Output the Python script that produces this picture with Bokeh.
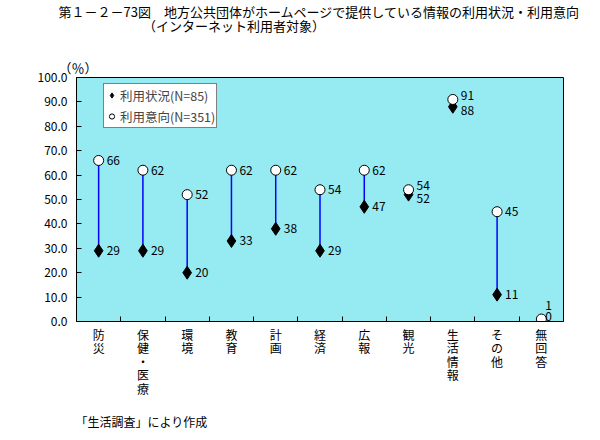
import numpy as np
from bokeh.plotting import figure
from bokeh.models import (Range1d, FixedTicker, NumeralTickFormatter, Title,
                          Legend, LegendItem, ColumnDataSource)
from bokeh.embed import file_html
from bokeh.resources import INLINE
from bokeh.core.properties import value

# ---- data ----
categories = ["防\n災", "保\n健\n・\n医\n療", "環\n境", "教\n育", "計\n画", "経\n済",
              "広\n報", "観\n光", "生\n活\n情\n報", "そ\nの\n他", "無\n回\n答"]
usage = [29, 29, 20, 33, 38, 29, 47, 52, 88, 11, 0]        # 利用状況(N=85)
intent = [66, 62, 52, 62, 62, 54, 62, 54, 91, 45, 1]       # 利用意向(N=351)
y_ticks = [0, 10, 20, 30, 40, 50, 60, 70, 80, 90, 100]

title1 = "第１－２－73図　地方公共団体がホームページで提供している情報の利用状況・利用意向"
title2 = "（インターネット利用者対象）"
unit_label = "（％）"
footer = "「生活調査」により作成"
usage_name = "利用状況(N=85)"
intent_name = "利用意向(N=351)"

FONT = "Noto Sans CJK JP"
n = len(categories)
xs = list(range(n))

# label offsets: separate labels when the two values are close
u_dy, i_dy, u_dx, i_dx = [], [], [], []
for u, v in zip(usage, intent):
    if v - u < 5:
        up, dn, dx = -4, 4, 8
        if u < 3:
            up, dn, dx = -14, -5, 4
        i_dy.append(up); u_dy.append(dn); i_dx.append(dx); u_dx.append(dx)
    else:
        i_dy.append(0); u_dy.append(0); i_dx.append(8); u_dx.append(8)

src = ColumnDataSource(dict(
    x=xs, usage=usage, intent=intent,
    ulab=[str(v) for v in usage], ilab=[str(v) for v in intent],
    udy=u_dy, idy=i_dy, udx=u_dx, idx=i_dx,
))

p = figure(width=600, height=440, output_backend="svg", toolbar_location=None,
           x_range=Range1d(-0.5, n - 0.5), y_range=Range1d(0, 100),
           min_border_left=76, min_border_right=37, min_border_top=77,
           min_border_bottom=118)
p.background_fill_color = "#96EBF3"
p.border_fill_color = "white"
p.outline_line_color = "black"
p.outline_line_width = 1
p.xgrid.visible = False
p.ygrid.visible = False

# x axis
xa = p.xaxis[0]
xa.ticker = FixedTicker(ticks=xs, minor_ticks=[i + 0.5 for i in xs[:-1]])
xa.major_label_overrides = {i: c for i, c in zip(xs, categories)}
xa.major_tick_in = 0
xa.major_tick_out = 0
xa.minor_tick_in = 5
xa.minor_tick_out = 0
xa.minor_tick_line_color = "black"
xa.axis_line_color = "black"
xa.major_label_text_font = FONT
xa.major_label_text_font_size = "12px"
xa.major_label_text_color = "black"
xa.major_label_standoff = 4
xa.major_label_text_line_height = 0.8

# y axis
ya = p.yaxis[0]
ya.ticker = FixedTicker(ticks=y_ticks)
ya.formatter = NumeralTickFormatter(format="0.0")
ya.major_tick_in = 5
ya.major_tick_out = 0
ya.minor_tick_line_color = None
ya.axis_line_color = "black"
ya.major_tick_line_color = "black"
ya.major_label_text_font = FONT
ya.major_label_text_font_size = "12px"
ya.major_label_text_color = "black"
ya.major_label_standoff = 9

# connecting lines
p.segment(x0="x", y0="usage", x1="x", y1="intent", source=src,
          line_color="#0000FF", line_width=1.5)

# markers
r_use = p.scatter(x="x", y="usage", source=src, marker="diamond", size=13,
                  fill_color="black", line_color="black")
r_int = p.scatter(x="x", y="intent", source=src, marker="circle", size=10,
                  fill_color="white", line_color="black", line_width=1)

# value labels
p.text(x="x", y="intent", text="ilab", source=src, x_offset="idx", y_offset="idy",
       text_font=value(FONT), text_font_size="12px", text_baseline="middle",
       text_align="left", text_color="black")
p.text(x="x", y="usage", text="ulab", source=src, x_offset="udx", y_offset="udy",
       text_font=value(FONT), text_font_size="12px", text_baseline="middle",
       text_align="left", text_color="black")

# legend
legend = Legend(items=[LegendItem(label=usage_name, renderers=[r_use]),
                       LegendItem(label=intent_name, renderers=[r_int])],
                location=(27, 193))
legend.label_text_font = FONT
legend.label_text_font_size = "12.5px"
legend.label_height = 20
legend.glyph_height = 20
legend.glyph_width = 13
legend.label_standoff = 2
legend.spacing = 1
legend.padding = 1
legend.margin = 0
legend.border_line_color = "black"
legend.border_line_width = 1
legend.background_fill_color = "white"
legend.background_fill_alpha = 1
p.add_layout(legend)

# heading block: title, subtitle and unit label, one multi-line title
heading = "\n".join([title1, "　" * 7 + title2, "", "", unit_label])
main_t = Title(text=heading, align="left", offset=-18, standoff=0,
               text_font=FONT, text_font_size="13px", text_font_style="normal",
               text_color="black", text_line_height=0.74)
p.add_layout(main_t, "above")
foot_t = Title(text=footer, align="left", offset=-1, standoff=22,
               text_font=FONT, text_font_size="12px", text_font_style="normal",
               text_color="black")
p.add_layout(foot_t, "below")

open("out.html", "w").write(file_html(p, INLINE))
